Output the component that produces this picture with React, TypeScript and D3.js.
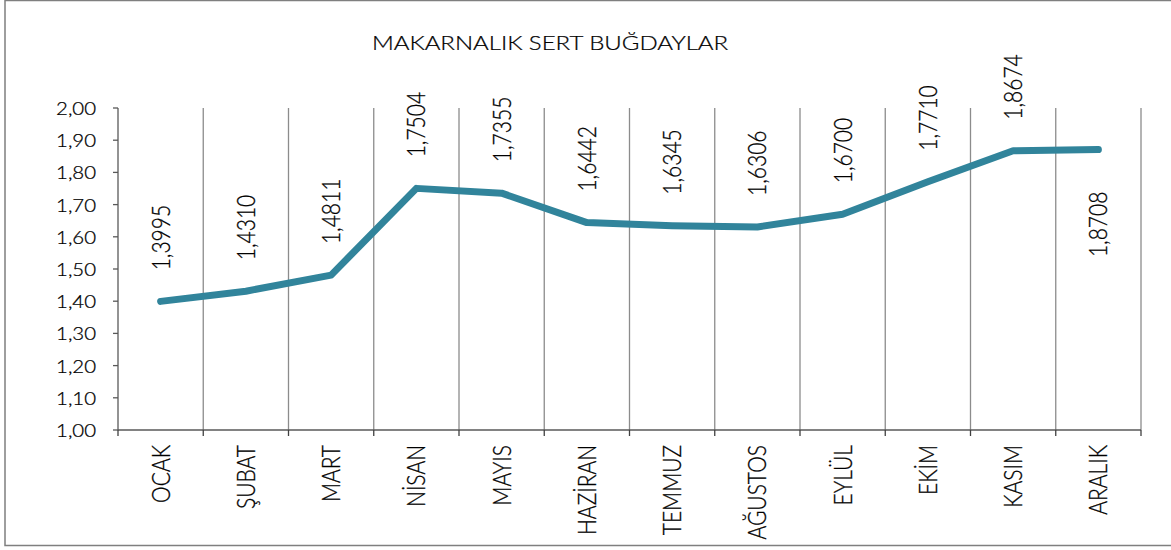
import React from "react";
import * as d3 from "d3";

const TITLE = "MAKARNALIK SERT BUĞDAYLAR";
const months = ["OCAK", "ŞUBAT", "MART", "NİSAN", "MAYIS", "HAZİRAN", "TEMMUZ", "AĞUSTOS", "EYLÜL", "EKİM", "KASIM", "ARALIK"];
const prices = [1.3995, 1.431, 1.4811, 1.7504, 1.7355, 1.6442, 1.6345, 1.6306, 1.67, 1.771, 1.8674, 1.8708];
const labelBelow = [false, false, false, false, false, false, false, false, false, false, false, true];
const yTicks = [1.0, 1.1, 1.2, 1.3, 1.4, 1.5, 1.6, 1.7, 1.8, 1.9, 2.0];

const W = 1171;
const H = 550;
const FONT = "Lato, 'Noto Sans', sans-serif";
const SX = 1.2;
const CAP = 0.717;

export default function App() {
  const left = 118, right = 1141, top = 108, bottom = 430;
  const x = d3.scaleBand<string>().domain(months).range([left, right]).paddingInner(0).paddingOuter(0);
  const y = d3.scaleLinear().domain([1, 2]).range([bottom, top]);
  const cx = (m: string) => (x(m) as number) + x.bandwidth() / 2;
  const line = d3
    .line<number>()
    .x((_, i) => cx(months[i]))
    .y((d) => y(d));
  const fmt = (v: number) => v.toFixed(4).replace(".", ",");
  const fmt2 = (v: number) => v.toFixed(2).replace(".", ",");
  const boundaries = months.map((m) => x(m) as number).concat([right]);

  const tickFs = 17;
  const dataFs = 21;
  const catFs = 21;
  const titleFs = 20;

  return (
    <svg width={W} height={H} style={{ position: "absolute", left: 0, top: 0, background: "#fff" }}>
      <rect x={5} y={0.5} width={W + 10} height={545} fill="#fff" stroke="#7f7f7f" strokeWidth={1.5} />
      <text
        transform={`translate(550,50) scale(${SX},1)`}
        textAnchor="middle"
        fontFamily={FONT}
        fontSize={titleFs}
        fontWeight={300}
        fill="#000"
        stroke="#000"
        strokeWidth={0.25}
      >
        {TITLE}
      </text>
      {boundaries.slice(1).map((bx, i) => (
        <line key={"g" + i} x1={bx} x2={bx} y1={top} y2={bottom} stroke="#8c8c8c" strokeWidth={1.3} />
      ))}
      <line x1={left} x2={left} y1={top} y2={bottom} stroke="#595959" strokeWidth={1.3} />
      {yTicks.map((t, i) => (
        <g key={"yt" + i}>
          <line x1={left - 5} x2={left} y1={y(t)} y2={y(t)} stroke="#595959" strokeWidth={1.3} />
          <text
            transform={`translate(96,${y(t) + (CAP * tickFs) / 2 + 1}) scale(${SX},1)`}
            textAnchor="end"
            fontFamily={FONT}
            fontSize={tickFs}
            fontWeight={300}
            fill="#000"
            stroke="#000"
            strokeWidth={0.25}
          >
            {fmt2(t)}
          </text>
        </g>
      ))}
      <line x1={left} x2={right} y1={bottom} y2={bottom} stroke="#595959" strokeWidth={1.3} />
      {boundaries.map((bx, i) => (
        <line key={"xt" + i} x1={bx} x2={bx} y1={bottom} y2={bottom + 6} stroke="#404040" strokeWidth={1.3} />
      ))}
      {months.map((m, i) => (
        <text
          key={"cl" + i}
          transform={`translate(${cx(m) + (CAP * catFs * SX) / 2},445) scale(${SX},1) rotate(-90)`}
          textAnchor="end"
          fontFamily={FONT}
          fontSize={catFs}
          fontWeight={300}
          fill="#000"
          stroke="#000"
          strokeWidth={0.25}
        >
          {m}
        </text>
      ))}
      <path
        d={line(prices) as string}
        fill="none"
        stroke="#31849b"
        strokeWidth={7}
        strokeLinecap="round"
        strokeLinejoin="round"
      />
      {prices.map((v, i) => {
        const px = cx(months[i]) + (CAP * dataFs * SX) / 2;
        const py = labelBelow[i] ? y(v) + 42 : y(v) - 31;
        return (
          <text
            key={"dl" + i}
            transform={`translate(${px},${py}) scale(${SX},1) rotate(-90)`}
            textAnchor={labelBelow[i] ? "end" : "start"}
            fontFamily={FONT}
            fontSize={dataFs}
            fontWeight={300}
            fill="#000"
            stroke="#000"
            strokeWidth={0.25}
          >
            {fmt(v)}
          </text>
        );
      })}
    </svg>
  );
}
